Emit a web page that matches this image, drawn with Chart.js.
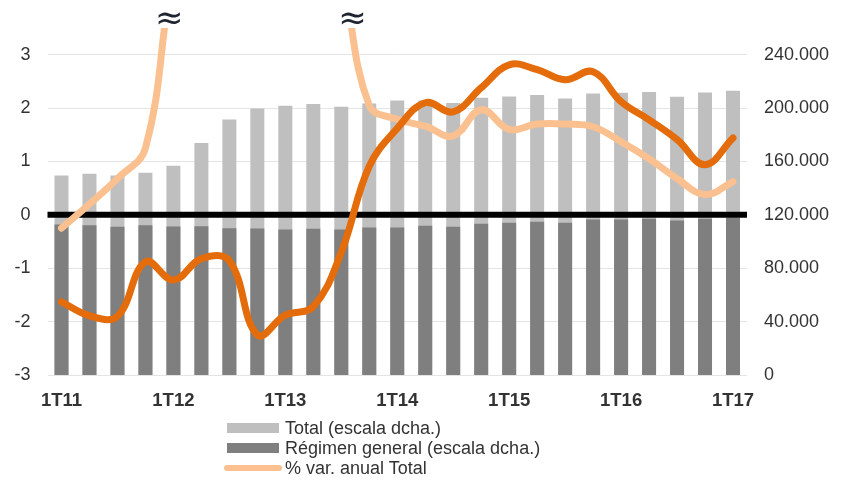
<!DOCTYPE html>
<html>
<head>
<meta charset="utf-8">
<script src="https://cdn.jsdelivr.net/npm/chart.js@4.4.1/dist/chart.umd.min.js"></script>
<style>
  html, body { margin: 0; padding: 0; background: #fff; }
  #wrap { position: relative; width: 843px; height: 480px; }
  #legend { position: absolute; left: 224px; top: 418px; font-family: "Liberation Sans", Arial, sans-serif; font-size: 18px; color: #333; }
  .item { display: flex; align-items: center; height: 20px; }
  .sw { width: 52px; height: 10px; margin-left: 3px; margin-right: 6px; }
  .sw.line { width: 58px; height: 6px; border-radius: 3px; margin-left: 0; margin-right: 3px; }
</style>
</head>
<body>
<div id="wrap">
  <canvas id="c" width="843" height="480"></canvas>
  <div id="legend"></div>
</div>
<script>
const labels = ['1T11','2T11','3T11','4T11','1T12','2T12','3T12','4T12','1T13','2T13','3T13','4T13',
                '1T14','2T14','3T14','4T14','1T15','2T15','3T15','4T15','1T16','2T16','3T16','4T16','1T17'];
const total = [149500,150750,149500,151500,156750,173750,191500,199750,201750,203000,201000,203500,
               205750,205750,203750,207750,208750,209750,207250,211000,211500,212000,208500,211750,213000];
const regimen = [112750,112250,111000,112250,111250,111500,110000,109750,109000,109500,109000,110500,
                 110500,111750,111000,113250,114000,114750,114000,116500,116500,117000,115750,117000,117750];
const varTotal = [-0.25,0.2,0.68,1.25,4.5,6,6,6,6,6,4.5,2.05,
                  1.79,1.66,1.48,1.97,1.6,1.7,1.7,1.65,1.37,1.05,0.68,0.38,0.62];
const varRegimen = [-1.63,-1.89,-1.9,-0.88,-1.22,-0.82,-0.86,-2.25,-1.88,-1.72,-0.7,0.91,
                    1.62,2.1,1.93,2.38,2.81,2.72,2.53,2.68,2.12,1.78,1.41,0.94,1.44];
const seriesNames = ['Total (escala dcha.)','Régimen general (escala dcha.)','% var. anual Total','% var. anual Régimen general'];
const leftTickValues = [-3,-2,-1,0,1,2,3];
const rightTickValues = [0,40000,80000,120000,160000,200000,240000];
const breakMarks = [3.85, 10.4];     // category positions of the axis-break marks

const colors = { total:'#BFBFBF', regimen:'#7F7F7F', varTotal:'#FAC090', varRegimen:'#E46C0A' };
const FONT = '"Liberation Sans", Arial, sans-serif';

const fmtThousands = v => String(v).replace(/\B(?=(\d{3})+(?!\d))/g, '.');

const zeroLine = {
  id: 'zeroLine',
  afterDatasetDraw(chart, args) {
    if (args.index !== 1) return;
    const y = chart.scales.yL.getPixelForValue(0);
    const ca = chart.chartArea, ctx = chart.ctx;
    ctx.save();
    ctx.beginPath();
    ctx.moveTo(ca.left, y); ctx.lineTo(ca.right, y);
    ctx.lineWidth = 6; ctx.strokeStyle = '#000';
    ctx.stroke();
    ctx.restore();
  }
};
const breaks = {
  id: 'breaks',
  afterDraw(chart) {
    const ctx = chart.ctx, xs = chart.scales.x, ca = chart.chartArea;
    ctx.save();
    ctx.font = '34px "DejaVu Sans"';
    ctx.fillStyle = '#1e2430';
    ctx.textAlign = 'center';
    ctx.textBaseline = 'middle';
    breakMarks.forEach(b => ctx.fillText('≈', xs.getPixelForValue(b), ca.top - 8));
    ctx.restore();
  }
};

const chart = new Chart(document.getElementById('c'), {
  type: 'bar',
  data: {
    labels: labels,
    datasets: [
      { type:'bar', label: seriesNames[0], data: total, yAxisID:'yR', backgroundColor: colors.total,
        grouped:false, barPercentage:0.5, categoryPercentage:1, order:4 },
      { type:'bar', label: seriesNames[1], data: regimen, yAxisID:'yR', backgroundColor: colors.regimen,
        grouped:false, barPercentage:0.5, categoryPercentage:1, order:3 },
      { type:'line', label: seriesNames[2], data: varTotal, yAxisID:'yL', borderColor: colors.varTotal,
        borderWidth:7, pointRadius:0, tension:0.4, borderCapStyle:'round', clip:0, order:2 },
      { type:'line', label: seriesNames[3], data: varRegimen, yAxisID:'yL', borderColor: colors.varRegimen,
        borderWidth:7, pointRadius:0, tension:0.4, borderCapStyle:'round', clip:0, order:1 }
    ]
  },
  options: {
    responsive:false, devicePixelRatio:1, animation:false,
    layout: { padding: { top:28, bottom:57, left:0, right:0 } },
    plugins: { legend:{ display:false }, tooltip:{ enabled:false } },
    scales: {
      x: {
        grid:{ display:false }, border:{ display:false },
        ticks:{ autoSkip:false, maxRotation:0, padding:7, color:'#333',
          font:{ family:FONT, size:18.5, weight:'bold' },
          callback:(v,i) => i % 4 === 0 ? labels[i] : '' },
        afterFit: s => { s.height = 48; }
      },
      yL: {
        position:'left', min:-3, max:3.5,
        grid:{ color:'#e4e4e4', lineWidth:1, drawTicks:false }, border:{ display:false },
        ticks:{ padding:17, color:'#333', font:{ family:FONT, size:18 }, callback: v => String(v) },
        afterBuildTicks: s => { s.ticks = leftTickValues.map(v => ({ value: v })); },
        afterFit: s => { s.width = 47.5; }
      },
      yR: {
        position:'right', min:0, max:260000,
        grid:{ display:false, drawTicks:false }, border:{ display:false },
        ticks:{ padding:17, color:'#333', font:{ family:FONT, size:18 }, callback: v => fmtThousands(v) },
        afterBuildTicks: s => { s.ticks = rightTickValues.map(v => ({ value: v })); },
        afterFit: s => { s.width = 96; }
      }
    }
  },
  plugins: [zeroLine, breaks]
});

// legend (three entries, as in the original)
const legendEl = document.getElementById('legend');
[[0,'box',colors.total],[1,'box',colors.regimen],[2,'line',colors.varTotal]].forEach(([i,kind,col]) => {
  const row = document.createElement('div'); row.className = 'item';
  const sw = document.createElement('span'); sw.className = 'sw' + (kind === 'line' ? ' line' : '');
  sw.style.background = col;
  const tx = document.createElement('span'); tx.textContent = seriesNames[i];
  row.appendChild(sw); row.appendChild(tx); legendEl.appendChild(row);
});
</script>
</body>
</html>
